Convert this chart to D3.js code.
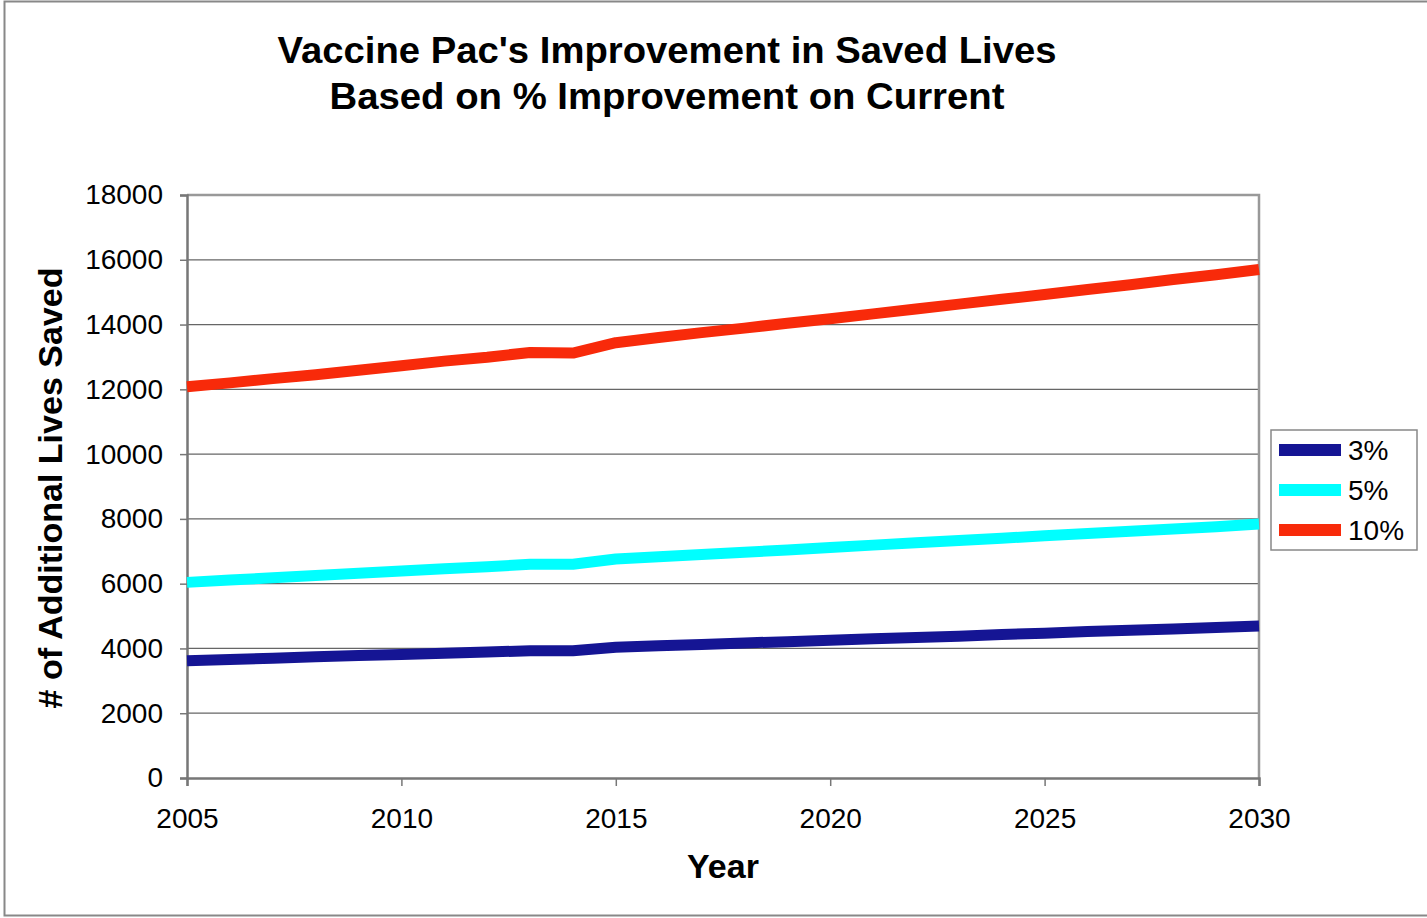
<!DOCTYPE html>
<html><head><meta charset="utf-8">
<script src="https://cdn.jsdelivr.net/npm/d3@7"></script>
<style>body{margin:0;background:#fff;}svg{display:block;font-family:"Liberation Sans",Arial,sans-serif;}</style>
</head><body><svg id="c" width="1427" height="918"></svg>
<script>
const years = d3.range(2005, 2031);
const s3 = [3620,3660,3700,3740,3780,3810,3850,3890,3930,3930,4040,4080,4120,4170,4210,4250,4300,4340,4380,4430,4470,4520,4560,4600,4650,4690];
const s5 = [6040,6110,6180,6250,6320,6390,6460,6520,6600,6600,6760,6830,6900,6970,7040,7120,7190,7260,7330,7400,7480,7550,7620,7690,7760,7840];
const s10 = [12080,12200,12330,12450,12590,12730,12870,12990,13140,13120,13440,13600,13750,13890,14040,14180,14330,14480,14630,14780,14930,15080,15230,15390,15540,15700];
const seriesNames = ["3%","5%","10%"];
const colors = ["#151594","#00FFFF","#F82A0A"];
const yTicks = [0,2000,4000,6000,8000,10000,12000,14000,16000,18000];
const xTicks = [2005,2010,2015,2020,2025,2030];
const titleLines = ["Vaccine Pac's Improvement in Saved Lives","Based on % Improvement on Current"];
const titleWidths = [779,675];

const svg = d3.select("#c");
svg.append("rect").attr("x",4.5).attr("y",1.5).attr("width",1430).attr("height",914).attr("fill","#fff").attr("stroke","#888").attr("stroke-width",2);

const L=187,R=1259,T=195,B=778;
const x = d3.scaleLinear().domain([2005,2030]).range([L,R]);
const y = d3.scaleLinear().domain([0,18000]).range([B,T]);

// gridlines
svg.append("g").selectAll("line").data(yTicks.filter(d=>d>0&&d<18000)).join("line")
  .attr("x1",L).attr("x2",R).attr("y1",d=>y(d)).attr("y2",d=>y(d)).attr("stroke","#666").attr("stroke-width",1.2);
// plot border top/right
svg.append("path").attr("d",`M${L},${T}H${R}V${B}`).attr("fill","none").attr("stroke","#999").attr("stroke-width",2.5);

// y axis
const ya = svg.append("g").attr("transform",`translate(${L},0)`)
  .call(d3.axisLeft(y).tickValues(yTicks).tickSize(7).tickPadding(17).tickFormat(d3.format("d")));
ya.select(".domain").attr("stroke","#777").attr("stroke-width",2.5);
ya.selectAll(".tick line").attr("stroke","#777").attr("stroke-width",1.5);
ya.selectAll("text").attr("font-size",28).attr("fill","#000").attr("font-family","Liberation Sans, Arial, sans-serif");

// x axis
const xa = svg.append("g").attr("transform",`translate(0,${B})`)
  .call(d3.axisBottom(x).tickValues(xTicks).tickSize(8).tickPadding(22).tickFormat(d3.format("d")));
xa.select(".domain").attr("stroke","#777").attr("stroke-width",2.5);
xa.selectAll(".tick line").attr("stroke","#777").attr("stroke-width",1.5);
xa.selectAll("text").attr("font-size",28).attr("fill","#000").attr("font-family","Liberation Sans, Arial, sans-serif");

// lines
const data = [s3,s5,s10];
const line = d3.line().x((d,i)=>x(years[i])).y(d=>y(d));
svg.append("g").selectAll("path").data(data).join("path")
  .attr("d",line).attr("fill","none").attr("stroke",(d,i)=>colors[i]).attr("stroke-width",11).attr("stroke-linejoin","round");

// title
svg.append("g").selectAll("text").data(titleLines).join("text")
  .attr("x",667).attr("y",(d,i)=>63+i*46).attr("font-size",36).attr("font-weight","bold").attr("text-anchor","middle")
  .attr("textLength",(d,i)=>titleWidths[i]).attr("lengthAdjust","spacingAndGlyphs").text(d=>d);

// axis titles
svg.append("text").attr("x",723).attr("y",878).attr("text-anchor","middle").attr("font-size",34).attr("font-weight","bold").text("Year");
svg.append("text").attr("transform","translate(62,488) rotate(-90)").attr("text-anchor","middle").attr("font-size",34).attr("font-weight","bold").text("# of Additional Lives Saved");

// legend
const lg = svg.append("g");
lg.append("rect").attr("x",1271).attr("y",430).attr("width",146).attr("height",120).attr("fill","#fff").attr("stroke","#888").attr("stroke-width",1.5);
const it = lg.selectAll("g").data(seriesNames).join("g").attr("transform",(d,i)=>`translate(0,${450+i*40})`);
it.append("line").attr("x1",1279).attr("x2",1341).attr("stroke",(d,i)=>colors[i]).attr("stroke-width",12);
it.append("text").attr("x",1348).attr("y",10).attr("font-size",28).text(d=>d);
</script></body></html>
